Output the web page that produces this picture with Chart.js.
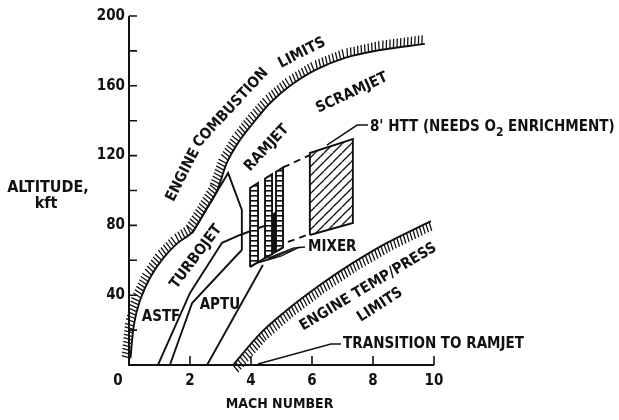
<!DOCTYPE html>
<html>
<head>
<meta charset="utf-8">
<script src="https://cdn.jsdelivr.net/npm/chart.js@4.4.0/dist/chart.umd.min.js"></script>
<style>
  html, body { margin: 0; padding: 0; background: #fff; }
  #wrap { width: 619px; height: 420px; position: relative; }
</style>
</head>
<body>
<div id="wrap"><canvas id="chart"></canvas></div>
<script>
// axis ticks
const machTicks = [0, 2, 4, 6, 8, 10];
const altTicks = [40, 80, 120, 160, 200];
const altMinorTicks = [20, 60, 100, 140, 180];

// [mach, kft]
const combustionLimit = [[0.05, 4], [0.16, 23], [0.36, 37], [0.69, 50], [1.11, 61], [1.6, 70], [2.07, 76],
  [2.49, 88], [2.89, 100], [3.21, 116], [3.64, 129], [4.13, 140], [4.62, 150], [5.28, 160], [6.1, 169],
  [7.08, 176], [8.23, 180.5], [9.7, 184]];
const tempPressLimit = [[3.41, 0], [4.3, 18], [5.18, 31.5], [6.26, 45.8], [7.34, 58.5], [8.46, 70], [9.9, 82.5]];
const astfLine = [[0.95, 0], [2.0, 41.3], [3.05, 70], [3.64, 74.5], [4.3, 78.8], [4.85, 82.2]];
const aptuLine = [[1.34, 0], [2.07, 35.5], [3.48, 61.9], [3.7, 65.9]];
const turbojetLine = [[2.07, 75.5], [3.25, 110], [3.7, 88.8], [3.7, 65.9]];
const aptuRight = [[2.56, 0], [4.39, 57.3]];
const ramjetBox1 = [[3.97, 56.2], [3.97, 101.4], [4.23, 104.3], [4.23, 59.0], [3.97, 56.2]];
const ramjetBox2 = [[4.46, 61.3], [4.46, 106.8], [4.69, 109.3], [4.69, 63.6], [4.46, 61.3]];
const ramjetBox3 = [[4.82, 65.0], [4.82, 110.7], [5.05, 113.2], [5.05, 67.4], [4.82, 65.0]];
const ramjetBase = [[3.97, 56.2], [5.05, 67.4]];
const mixerCore = [[4.66, 64], [4.66, 86], [4.84, 88], [4.84, 66], [4.66, 64]];
const mixerWedge = [[4.23, 58.5], [5.0, 62.5], [5.6, 67.6], [4.23, 58.5]];
const httBox = [[5.93, 74.5], [5.93, 121.5], [7.34, 129.5], [7.34, 81.4], [5.93, 74.5]];
const dashTop = [[5.05, 113.2], [5.93, 120.3]];
const dashBottom = [[5.21, 70.5], [5.93, 75.1]];
const httLeader = [[7.84, 137.5], [7.48, 137.5], [6.49, 126]];
const mixerLeader = [[5.77, 67.6], [5.38, 67], [4.56, 61.3]];
const transitionLeader = [[6.95, 12], [6.62, 12], [4.23, 0.6]];

const FONT = '"DejaVu Sans Condensed", "Liberation Sans Narrow", "DejaVu Sans", sans-serif';

function xy(arr) { return arr.map(p => ({ x: p[0], y: p[1] })); }

function makePattern(kind) {
  const c = document.createElement('canvas');
  const g = c.getContext('2d');
  if (kind === 'rungs') {
    c.width = 4; c.height = 5;
    g.fillStyle = '#fff'; g.fillRect(0, 0, 4, 5);
    g.fillStyle = '#111'; g.fillRect(0, 0, 4, 1.6);
  } else if (kind === 'diag') {
    c.width = 9; c.height = 9;
    g.fillStyle = '#fff'; g.fillRect(0, 0, 9, 9);
    g.strokeStyle = '#111'; g.lineWidth = 1.3;
    for (let k = -1; k <= 1; k++) {
      g.beginPath(); g.moveTo(k * 9, 9); g.lineTo(k * 9 + 9, 0); g.stroke();
    }
  } else {
    c.width = 3; c.height = 3;
    g.fillStyle = '#bbb'; g.fillRect(0, 0, 3, 3);
    g.fillStyle = '#555'; g.fillRect(0, 0, 1, 1);
  }
  return g.createPattern(c, 'repeat');
}

const ctx = document.querySelector('#chart').getContext('2d');
const rungs = makePattern('rungs');
const diag = makePattern('diag');
const grey = makePattern('grey');

function line(data, extra) {
  return Object.assign({
    data: xy(data), showLine: true, borderColor: '#111', borderWidth: 1.9,
    pointRadius: 0, fill: false, tension: 0
  }, extra || {});
}

function hatch(c, pts, side, spacing, len, slant) {
  let carry = 0;
  c.beginPath();
  for (let i = 0; i < pts.length - 1; i++) {
    const [x0, y0] = pts[i], [x1, y1] = pts[i + 1];
    const L = Math.hypot(x1 - x0, y1 - y0);
    const tx = (x1 - x0) / L, ty = (y1 - y0) / L;
    const nx = side * ty, ny = -side * tx;
    let d = carry;
    while (d < L) {
      const px = x0 + tx * d, py = y0 + ty * d;
      c.moveTo(px, py);
      c.lineTo(px + nx * len + tx * slant, py + ny * len + ty * slant);
      d += spacing;
    }
    carry = d - L;
  }
  c.stroke();
}

function label(c, s, x, y, ang, align) {
  c.save();
  c.translate(x, y);
  c.rotate(ang * Math.PI / 180);
  c.textAlign = align || 'center';
  c.textBaseline = 'middle';
  c.fillText(s, 0, 0);
  c.restore();
}

const figure = {
  id: 'figure',
  afterDatasetsDraw(chart) {
    const c = chart.ctx, sx = chart.scales.x, sy = chart.scales.y;
    const X = v => sx.getPixelForValue(v), Y = v => sy.getPixelForValue(v);
    c.save();
    c.strokeStyle = '#111';
    c.fillStyle = '#111';

    // hatching on limit curves
    c.lineWidth = 1.3;
    hatch(c, combustionLimit.map(p => [X(p[0]), Y(p[1])]), 1, 3.6, 9, 1.5);
    hatch(c, tempPressLimit.map(p => [X(p[0]), Y(p[1])]), -1, 3.6, 9, -1.5);

    // axes
    c.lineWidth = 2;
    c.beginPath();
    c.moveTo(X(0), Y(200)); c.lineTo(X(0), Y(0)); c.lineTo(X(10), Y(0));
    c.stroke();
    c.lineWidth = 1.6;
    c.beginPath();
    altTicks.concat(altMinorTicks).forEach(v => { c.moveTo(X(0), Y(v)); c.lineTo(X(0) + 8, Y(v)); });
    machTicks.slice(1).forEach(v => { c.moveTo(X(v), Y(0)); c.lineTo(X(v), Y(0) - 9); });
    c.stroke();

    c.font = 'bold 15px ' + FONT;
    c.textBaseline = 'middle';
    c.textAlign = 'right';
    altTicks.forEach(v => c.fillText(String(v), X(0) - 4, Y(v)));
    c.textAlign = 'center';
    machTicks.forEach(v => c.fillText(String(v), v === 0 ? X(v) - 11 : X(v), Y(0) + 16));
    c.font = 'bold 14px ' + FONT;
    c.fillText('MACH NUMBER', X(5) - 2, Y(0) + 39);
    c.font = 'bold 16px ' + FONT;
    c.fillText('ALTITUDE,', 48, 188);
    c.fillText('kft', 46, 204);

    // region labels
    c.font = 'bold 15px ' + FONT;
    label(c, 'ENGINE', X(1.77), Y(108.9), -63);
    label(c, 'COMBUSTION', X(3.34), Y(147.3), -47);
    label(c, 'LIMITS', X(5.67), Y(178.8), -27);
    label(c, 'RAMJET', X(4.52), Y(124.4), -47);
    label(c, 'SCRAMJET', X(7.31), Y(155.9), -25);
    label(c, 'TURBOJET', X(2.20), Y(62), -53);
    label(c, 'ASTF', X(1.05), Y(27.5), 0);
    label(c, 'APTU', X(2.98), Y(34.4), 0);
    label(c, 'MIXER', X(5.87), Y(67.6), 0, 'left');
    label(c, 'ENGINE TEMP/PRESS', X(7.84), Y(44.7), -31);
    label(c, 'LIMITS', X(8.23), Y(34.4), -33);
    label(c, 'TRANSITION TO RAMJET', X(7.02), Y(12), 0, 'left');

    // 8' HTT label with subscript
    let hx = X(7.9), hy = Y(136.4);
    const p1 = "8' HTT (NEEDS O";
    c.textAlign = 'left';
    c.fillText(p1, hx, hy);
    hx += c.measureText(p1).width;
    c.font = 'bold 12px ' + FONT;
    c.fillText('2', hx, hy + 6);
    hx += c.measureText('2').width;
    c.font = 'bold 15px ' + FONT;
    c.fillText(' ENRICHMENT)', hx, hy);
    c.restore();
  }
};

new Chart(ctx, {
  type: 'scatter',
  data: {
    datasets: [
      line(httBox, { fill: 'shape', backgroundColor: diag }),
      line(ramjetBox1, { fill: 'shape', backgroundColor: rungs }),
      line(ramjetBox2, { fill: 'shape', backgroundColor: rungs }),
      line(ramjetBox3, { fill: 'shape', backgroundColor: rungs }),
      line(mixerCore, { fill: 'shape', backgroundColor: '#111', borderWidth: 1 }),
      line(mixerWedge, { fill: 'shape', backgroundColor: grey, borderWidth: 1.2 }),
      line(ramjetBase),
      line(combustionLimit, { tension: 0.3 }),
      line(tempPressLimit, { tension: 0.3 }),
      line(astfLine),
      line(aptuLine),
      line(turbojetLine),
      line(aptuRight),
      line(dashTop, { borderDash: [7, 5] }),
      line(dashBottom, { borderDash: [7, 5] }),
      line(httLeader, { borderWidth: 1.4 }),
      line(mixerLeader, { borderWidth: 1.4 }),
      line(transitionLeader, { borderWidth: 1.4 })
    ]
  },
  options: {
    responsive: true,
    maintainAspectRatio: false,
    animation: false,
    layout: { padding: { left: 129, right: 185, top: 16, bottom: 55 } },
    scales: {
      x: { type: 'linear', min: 0, max: 10, display: false },
      y: { type: 'linear', min: 0, max: 200, display: false }
    },
    plugins: {
      legend: { display: false },
      tooltip: { enabled: false }
    }
  },
  plugins: [figure]
});
</script>
</body>
</html>
